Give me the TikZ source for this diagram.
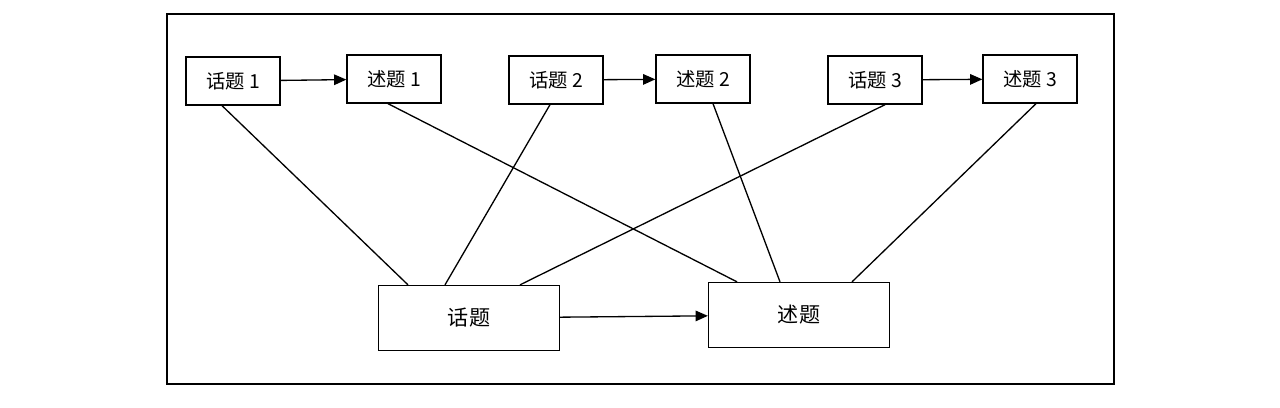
\documentclass[tikz,border=0pt]{standalone}
\usepackage{fontspec}
\setmainfont{Liberation Sans}
\newfontfamily\cjk{Noto Sans CJK SC}
\usetikzlibrary{arrows.meta,calc}
\tikzset{every picture/.style={line width=0.75pt}}
\tikzset{small/.style={draw,minimum width=1.88cm,minimum height=0.96cm,font=\cjk\fontsize{11}{13}\selectfont},
  big/.style={draw,minimum width=3.62cm,minimum height=1.3cm,font=\cjk\fontsize{12}{14}\selectfont},
  arr/.style={-{Triangle[length=7pt,width=6pt]}}}
\begin{document}
\begin{tikzpicture}[x=0.02cm,y=-0.02cm]
\useasboundingbox (0,0) rectangle (1280,407);
\draw (167,14) rectangle (1114,384);
%
\node[small] (t1) at (233,81) {话题 1};
\node[small] (s1) at (394,79) {述题 1};
\node[small] (t2) at (556,80) {话题 2};
\node[small] (s2) at (703,79) {述题 2};
\node[small] (t3) at (875,80) {话题 3};
\node[small] (s3) at (1030,79) {述题 3};
%
\node[big] (T) at (469,318) {话题};
\node[big] (S) at (799,315) {述题};
%
\foreach \Source/\Target in {t1/s1, t2/s2, t3/s3, T/S}
\draw[arr] (\Source) -- (\Target);
%
\foreach \Source/\Sx/\Target/\Tx in {%
	t1/222/T/408,
	s1/388/S/737,
	t2/550/T/445,
	s2/713/S/780,
	t3/885/T/520,
	s3/1036/S/852%
    }
\draw (\Sx,0 |- \Source.south) -- (\Tx,0 |- \Target.north);
\end{tikzpicture}
\end{document}
